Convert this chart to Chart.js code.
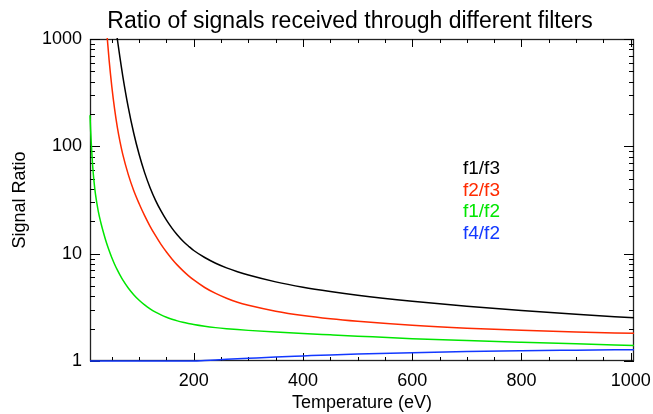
<!DOCTYPE html>
<html>
<head>
<meta charset="utf-8">
<script src="https://cdn.jsdelivr.net/npm/chart.js@4.4.0/dist/chart.umd.min.js"></script>
<style>
  html, body { margin: 0; padding: 0; background: #fff; }
  #wrap { width: 653px; height: 414px; }
</style>
</head>
<body>
<div id="wrap"><canvas id="ratioChart" width="653" height="414"></canvas></div>
<script>
// temperature grid (eV)
const temps = [10, 11, 12, 13, 15, 17, 20, 25, 30, 35, 40, 45, 50, 55, 60, 65, 70, 80, 90, 100,
               110, 120, 130, 140, 150, 160, 170, 180, 190, 200, 220, 240, 260, 280, 300, 350,
               400, 450, 500, 600, 700, 800, 900, 1006];

// signal ratios (null = above the top of the plot)
const f1f3 = [null, null, null, null, null, null, null, null, null, null, null, null, 2640, 1590, 1000, 664, 452, 232, 133, 83.9,
              56.9, 41.2, 31.4, 25.0, 20.5, 17.3, 14.9, 13.1, 11.8, 10.7, 9.21, 8.15, 7.38, 6.79, 6.32, 5.46,
              4.87, 4.44, 4.10, 3.60, 3.23, 2.95, 2.72, 2.53];
const f2f3 = [null, null, null, null, null, null, null, null, null, null, 1279, 635, 358, 223, 151, 110, 84.1, 54.8, 38.8, 29.2,
              22.6, 18.0, 14.7, 12.2, 10.35, 8.93, 7.82, 6.95, 6.25, 5.69, 4.84, 4.26, 3.84, 3.52, 3.30, 2.91,
              2.65, 2.47, 2.34, 2.15, 2.02, 1.93, 1.86, 1.81];
const f1f2 = [195, 146, 115, 92.7, 64.6, 49.0, 35.9, 25.1, 19.3, 15.5, 12.7, 10.7, 9.16, 7.98, 7.06, 6.31, 5.70, 4.793, 4.150, 3.680,
              3.329, 3.061, 2.852, 2.689, 2.558, 2.453, 2.366, 2.295, 2.236, 2.185, 2.106, 2.046, 1.999, 1.961, 1.929, 1.862,
              1.803, 1.753, 1.705, 1.616, 1.551, 1.495, 1.444, 1.396];
const f4f2 = [1.0, 1.0, 1.0, 1.0, 1.0, 1.0, 1.0, 1.0, 1.0, 1.0, 1.0, 1.0, 1.0, 1.0, 1.0, 1.0, 1.0, 1.0, 1.0, 1.0,
              1.0, 1.0, 1.0, 1.0, 1.0, 1.0, 1.0, 1.0, 1.0, 1.0, 1.012, 1.024, 1.036, 1.048, 1.06, 1.09,
              1.115, 1.14, 1.16, 1.195, 1.225, 1.245, 1.26, 1.275];

const seriesLabels = ['f1/f3', 'f2/f3', 'f1/f2', 'f4/f2'];
const seriesColors = ['#000000', '#ff2a00', '#00e600', '#1238ff'];

const xTickValues = [200, 400, 600, 800, 1000];
const yTickValues = [1, 10, 100, 1000];

const FONT = '"Liberation Sans", Arial, Helvetica, sans-serif';

function toPoints(values) {
    const pts = [];
    values.forEach((v, i) => {
        if (v !== null) pts.push({ x: temps[i], y: v });
    });
    return pts;
}

// box and inward ticks, drawn under the curves
const framePlugin = {
    id: 'frame',
    beforeDatasetsDraw(chart) {
        const ctx = chart.ctx;
        const area = chart.chartArea;
        const xs = chart.scales.x;
        const ys = chart.scales.y;
        ctx.save();
        ctx.strokeStyle = '#222';
        ctx.lineWidth = 1.3;
        ctx.strokeRect(area.left + 0.5, area.top + 0.5, area.right - area.left - 1, area.bottom - area.top - 1);

        ctx.strokeStyle = '#000';
        ctx.lineWidth = 1;
        ctx.beginPath();
        for (let t = 50; t <= 1000; t += 50) {
            const px = Math.round(xs.getPixelForValue(t)) + 0.5;
            const len = (t % 200 === 0) ? 8 : 4;
            ctx.moveTo(px, area.bottom);
            ctx.lineTo(px, area.bottom - len);
            ctx.moveTo(px, area.top);
            ctx.lineTo(px, area.top + len);
        }
        for (let d = 1; d <= 1000; d *= 10) {
            for (let m = 1; m <= 9; m++) {
                const v = d * m;
                if (v > 1000) break;
                const py = Math.round(ys.getPixelForValue(v)) + 0.5;
                const len = (m === 1) ? 10 : 5;
                ctx.moveTo(area.left, py);
                ctx.lineTo(area.left + len, py);
                ctx.moveTo(area.right, py);
                ctx.lineTo(area.right - len, py);
            }
        }
        ctx.stroke();
        ctx.restore();
    },
    afterDraw(chart) {
        const ctx = chart.ctx;
        ctx.save();
        ctx.fillStyle = '#000';
        ctx.font = '23px ' + FONT;
        ctx.textAlign = 'center';
        ctx.textBaseline = 'alphabetic';
        ctx.fillText('Ratio of signals received through different filters', 350, 28);

        ctx.font = '19px ' + FONT;
        ctx.textAlign = 'left';
        seriesLabels.forEach((lab, i) => {
            ctx.fillStyle = seriesColors[i];
            ctx.fillText(lab, 463, 174 + i * 21.5);
        });
        ctx.restore();
    }
};

const chart = new Chart(document.getElementById('ratioChart').getContext('2d'), {
    type: 'line',
    data: {
        datasets: [f1f3, f2f3, f1f2, f4f2].map((vals, i) => ({
            label: seriesLabels[i],
            data: toPoints(vals),
            borderColor: seriesColors[i],
            borderWidth: 1.5,
            pointRadius: 0,
            fill: false,
            cubicInterpolationMode: 'monotone',
            clip: { left: 1, top: 1, right: 1, bottom: 2 }
        }))
    },
    options: {
        responsive: false,
        animation: false,
        layout: { autoPadding: false, padding: { left: 0, right: 19, top: 39, bottom: 0 } },
        plugins: {
            legend: { display: false },
            tooltip: { enabled: false }
        },
        scales: {
            x: {
                type: 'linear',
                min: 10,
                max: 1006,
                grid: { display: false, drawTicks: false },
                border: { display: false },
                afterBuildTicks: (s) => { s.ticks = xTickValues.map(v => ({ value: v })); },
                afterFit: (s) => { s.height = 53; s.paddingLeft = 0; s.paddingRight = 0; },
                ticks: {
                    color: '#000',
                    padding: 9,
                    maxRotation: 0,
                    font: { family: FONT, size: 18 },
                    callback: (v) => String(v)
                },
                title: {
                    display: true,
                    text: 'Temperature (eV)',
                    color: '#000',
                    padding: { top: 0, bottom: 0 },
                    font: { family: FONT, size: 18 }
                }
            },
            y: {
                type: 'logarithmic',
                min: 1,
                max: 1000,
                grid: { display: false, drawTicks: false },
                border: { display: false },
                afterBuildTicks: (s) => { s.ticks = yTickValues.map(v => ({ value: v })); },
                afterFit: (s) => { s.width = 90; s.paddingTop = 0; s.paddingBottom = 0; },
                ticks: {
                    color: '#000',
                    padding: 8,
                    font: { family: FONT, size: 18 },
                    callback: (v) => String(v)
                },
                title: {
                    display: true,
                    text: 'Signal Ratio',
                    color: '#000',
                    padding: { top: 9, bottom: 0 },
                    font: { family: FONT, size: 18 }
                }
            }
        }
    },
    plugins: [framePlugin]
});
</script>
</body>
</html>
